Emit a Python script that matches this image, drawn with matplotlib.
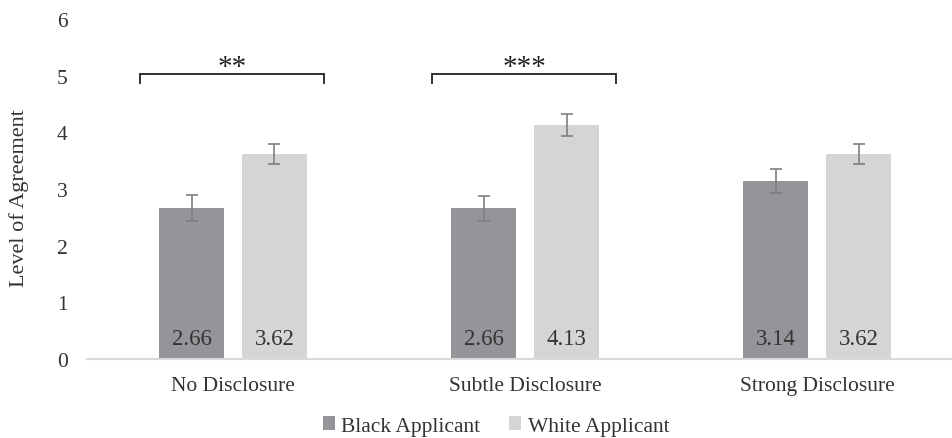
import matplotlib.pyplot as plt
import numpy as np

plt.rcParams['font.family'] = ['Liberation Serif', 'DejaVu Serif']

# Mean agreement by disclosure condition
conditions = ['No Disclosure', 'Subtle Disclosure', 'Strong Disclosure']
black_means = [2.66, 2.66, 3.14]
white_means = [3.62, 4.13, 3.62]
black_err = [0.23, 0.22, 0.21]
white_err = [0.18, 0.19, 0.18]

# significance brackets: (category index, stars)
sig = [(0, '**'), (1, '***')]

black_col = '#939598'
white_col = '#d4d5d7'
text_col = '#333333'
fs = 15.5

fig = plt.figure(figsize=(9.52, 4.39), dpi=100)
ax = fig.add_axes([87 / 952, 79 / 439, 865 / 952, 340 / 439])

x = np.arange(len(conditions))
w = 0.223
off = 0.142

ax.bar(x - off, black_means, w, color=black_col, label='Black Applicant', zorder=2)
ax.bar(x + off, white_means, w, color=white_col, label='White Applicant', zorder=2)
ax.errorbar(x - off, black_means, yerr=black_err, fmt='none', ecolor='#7f7f7f',
            elinewidth=1.2, capsize=4, capthick=1.2, zorder=3)
ax.errorbar(x + off, white_means, yerr=white_err, fmt='none', ecolor='#7f7f7f',
            elinewidth=1.2, capsize=4, capthick=1.2, zorder=3)

# value labels near the base of each bar
for xi, b, wv in zip(x, black_means, white_means):
    ax.text(xi - off, 0.36, f'{b:.2f}', ha='center', va='center', fontsize=fs + 1, color=text_col, zorder=4)
    ax.text(xi + off, 0.36, f'{wv:.2f}', ha='center', va='center', fontsize=fs + 1, color=text_col, zorder=4)

# brackets with stars
for ci, stars in sig:
    x0, x1 = ci - 0.317, ci + 0.31
    ax.plot([x0, x0, x1, x1], [4.87, 5.03, 5.03, 4.87], color='#222222', lw=1.3,
            solid_joinstyle='miter', zorder=4)
    ax.text((x0 + x1) / 2, 5.15, stars, ha='center', va='center', fontsize=21, color='#222222')

ax.set_xlim(-0.5, 2.462)
ax.set_ylim(0, 6)
ax.set_xticks(x)
ax.set_xticklabels(conditions, fontsize=fs, color=text_col)
ax.set_yticks(range(7))
ax.tick_params(axis='y', labelsize=fs, colors=text_col, length=0, pad=14)
ax.tick_params(axis='x', length=0, pad=12)
for s in ['top', 'right', 'left']:
    ax.spines[s].set_visible(False)
ax.spines['bottom'].set_color('#d9d9d9')
ax.spines['bottom'].set_linewidth(1.5)

fig.text(19 / 952, (439 - 198) / 439, 'Level of Agreement', rotation=90, ha='center', va='center',
         fontsize=fs + 0.5, color=text_col)

leg = ax.legend(loc='center', bbox_to_anchor=(496 / 952, 12 / 439), bbox_transform=fig.transFigure,
                ncol=2, frameon=False, fontsize=fs, handlelength=0.56, handleheight=0.56,
                handletextpad=0.3, columnspacing=1.35)
for t in leg.get_texts():
    t.set_color(text_col)

fig.savefig('out.png', dpi=100)
